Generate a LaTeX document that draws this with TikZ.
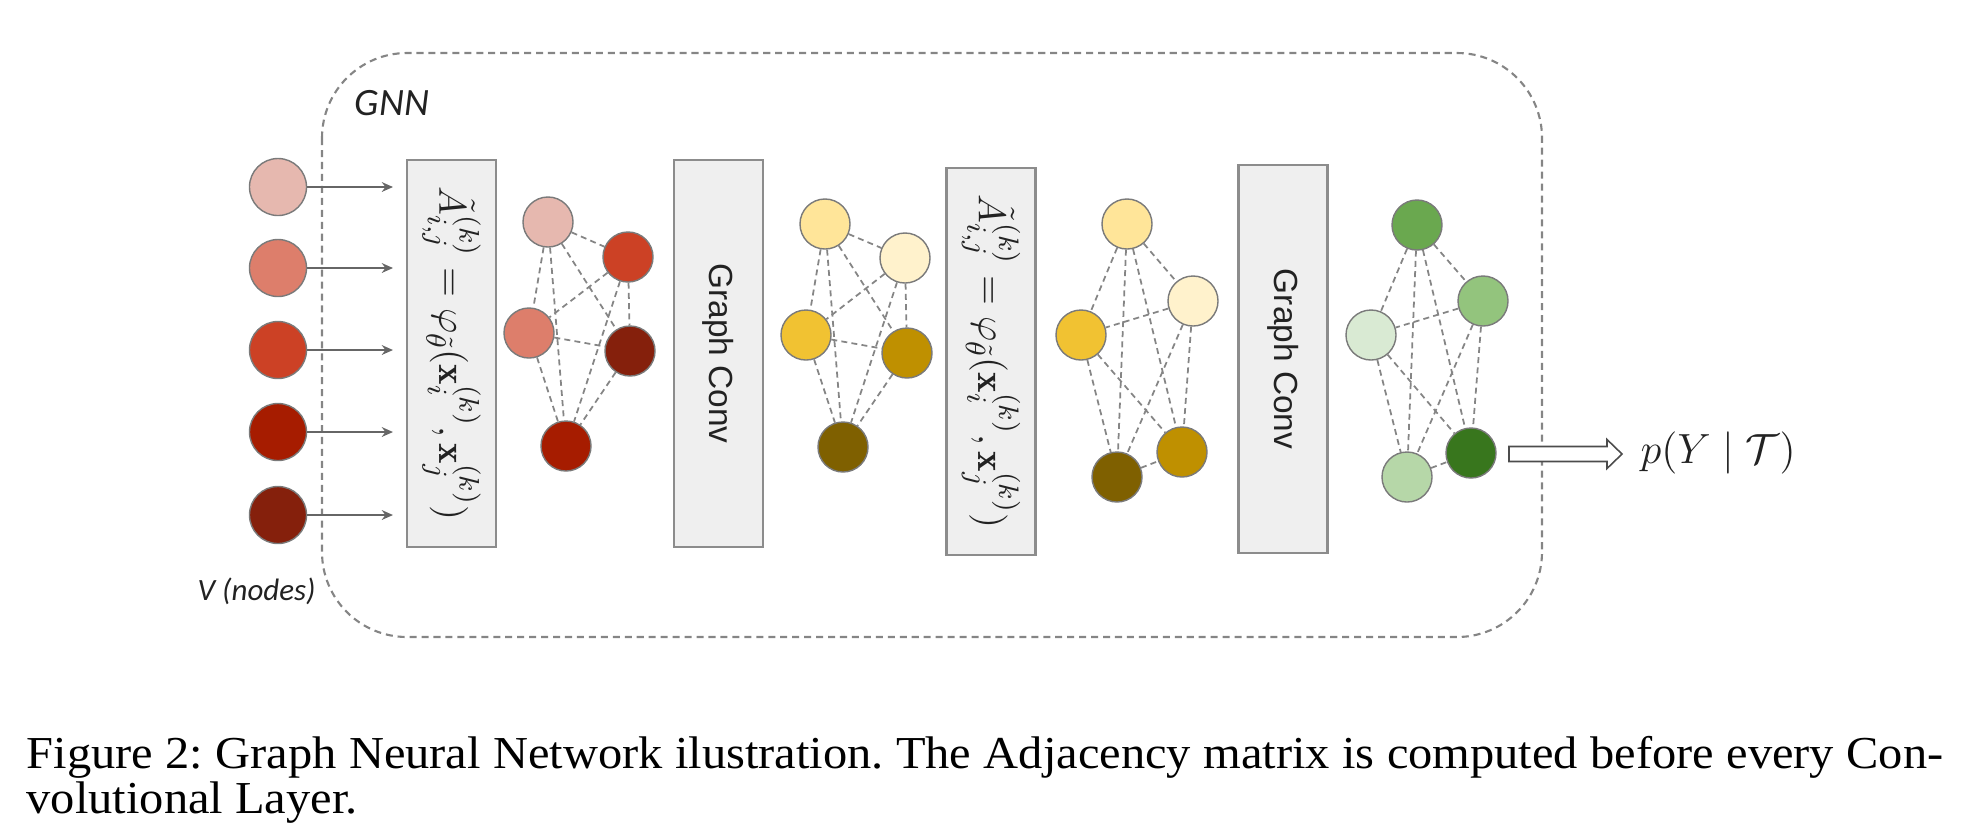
\documentclass[tikz,border=0pt]{standalone}
\usepackage{fontspec}
\usepackage{amsmath}
\usetikzlibrary{backgrounds,arrows.meta}
\newfontfamily\capfont[FakeStretch=1.06]{Liberation Serif}
\newfontfamily\calfont{Carlito}
\newfontfamily\arialfont{Liberation Sans}
\definecolor{rA}{HTML}{E6B8AF}
\definecolor{rB}{HTML}{DD7E6B}
\definecolor{rC}{HTML}{CC4125}
\definecolor{rD}{HTML}{A61C00}
\definecolor{rE}{HTML}{85200C}
\definecolor{yA}{HTML}{FFE599}
\definecolor{yB}{HTML}{FFF2CC}
\definecolor{yC}{HTML}{F1C232}
\definecolor{yD}{HTML}{BF9000}
\definecolor{yE}{HTML}{7F6000}
\definecolor{gA}{HTML}{6AA84F}
\definecolor{gB}{HTML}{93C47D}
\definecolor{gC}{HTML}{D9EAD3}
\definecolor{gD}{HTML}{B6D7A8}
\definecolor{gE}{HTML}{38761D}
\definecolor{nodeborder}{HTML}{7A7A7A}
\definecolor{edgegray}{HTML}{858585}
\definecolor{boxborder}{HTML}{8C8C8C}
\definecolor{boxfill}{HTML}{EFEFEF}
\definecolor{arrowgray}{HTML}{666666}
\definecolor{txt}{HTML}{222222}
\begin{document}
\begin{tikzpicture}[x=0.01cm,y=-0.01cm,
  gnode/.style={circle, draw=nodeborder, line width=0.4pt, minimum size=0.5cm, inner sep=0pt},
  innode/.style={gnode, minimum size=0.57cm},
  gedge/.style={draw=edgegray, dash pattern=on 1.7pt off 1.2pt, line width=0.5pt},
  opbox/.style={draw=boxborder, fill=boxfill, line width=0.6pt, rotate=-90,
    minimum width=3.87cm, minimum height=0.89cm, inner sep=0pt, text=txt},
  inarrow/.style={draw=arrowgray, line width=0.45pt, -{Stealth[length=3.2pt,width=2.8pt]}},
  gnnframe/.style={draw=edgegray, dash pattern=on 2pt off 1.4pt, line width=0.6pt, rounded corners=0.85cm},
  blockarrow/.style={draw=black!70, fill=white, line width=0.45pt, line join=miter},
  convtext/.style={font=\arialfont\fontsize{9.5}{11}\selectfont},
  formtext/.style={font=\fontsize{11}{13}\selectfont},
  labeltext/.style={text=txt, inner sep=0pt}
]
\useasboundingbox (0,0) rectangle (1982,838);

% GNN frame
\draw[gnnframe] (322,53) rectangle (1542,637);
\node[labeltext, anchor=base west, font=\calfont\itshape\fontsize{11}{13}\selectfont] (gnnlab) at (354,115) {GNN};
\node[labeltext, anchor=base west, font=\calfont\itshape\fontsize{8.8}{10}\selectfont] (vlab) at (197,600) {V (nodes)};

% input nodes
\node[innode, fill=rA] (in1) at (278,187) {};
\node[innode, fill=rB] (in2) at (278,268) {};
\node[innode, fill=rC] (in3) at (278,350) {};
\node[innode, fill=rD] (in4) at (278,432) {};
\node[innode, fill=rE] (in5) at (278,515) {};
\coordinate (t1) at (393,187);
\coordinate (t2) at (393,268);
\coordinate (t3) at (393,350);
\coordinate (t4) at (393,432);
\coordinate (t5) at (393,515);
\foreach \i in {1,...,5} \draw[inarrow] (in\i) -- (t\i);

% operation boxes
\node[opbox, formtext] (adj1) at (451.5,353.5)
  {$\tilde{A}^{(k)}_{i,j} = \varphi_{\tilde{\theta}}(\mathbf{x}^{(k)}_i, \mathbf{x}^{(k)}_j)$};
\node[opbox, convtext] (conv1) at (718.5,353.5) {Graph Conv};
\node[opbox, formtext] (adj2) at (991,361.5)
  {$\tilde{A}^{(k)}_{i,j} = \varphi_{\tilde{\theta}}(\mathbf{x}^{(k)}_i, \mathbf{x}^{(k)}_j)$};
\node[opbox, convtext] (conv2) at (1283,359) {Graph Conv};

% graph 1
\node[gnode, fill=rA] (g1a) at (548,222) {};
\node[gnode, fill=rC] (g1b) at (628,257) {};
\node[gnode, fill=rB] (g1c) at (529,333) {};
\node[gnode, fill=rE] (g1d) at (630,351) {};
\node[gnode, fill=rD] (g1e) at (566,446) {};
% graph 2
\node[gnode, fill=yA] (g2a) at (825,224) {};
\node[gnode, fill=yB] (g2b) at (905,258) {};
\node[gnode, fill=yC] (g2c) at (806,335) {};
\node[gnode, fill=yD] (g2d) at (907,353) {};
\node[gnode, fill=yE] (g2e) at (843,447) {};
% graph 3
\node[gnode, fill=yA] (g3a) at (1127,224) {};
\node[gnode, fill=yB] (g3b) at (1193,301) {};
\node[gnode, fill=yC] (g3c) at (1081,335) {};
\node[gnode, fill=yE] (g3d) at (1117,477) {};
\node[gnode, fill=yD] (g3e) at (1182,452) {};
% graph 4
\node[gnode, fill=gA] (g4a) at (1417,225) {};
\node[gnode, fill=gB] (g4b) at (1483,301) {};
\node[gnode, fill=gC] (g4c) at (1371,335) {};
\node[gnode, fill=gD] (g4d) at (1407,477) {};
\node[gnode, fill=gE] (g4e) at (1471,453) {};

\begin{scope}[on background layer]
\foreach \g in {1,2,3,4}
  \foreach \u/\v in {a/b,a/c,a/d,a/e,b/c,b/d,b/e,c/d,c/e,d/e}
    \draw[gedge] (g\g\u) -- (g\g\v);
\end{scope}

% output arrow
\coordinate (arrS) at (1509,454);
\coordinate (arrE) at (1622,454);
\draw[blockarrow] (arrS) ++(0,-7.5) -- ++(98,0) -- ++(0,-7) -- (arrE) -- ++(-15,14.5) -- ++(0,-7) -- ++(-98,0) -- cycle;
\node[labeltext, anchor=west, font=\fontsize{12}{14}\selectfont] (out) at (1640,453) {$p(Y \mid \mathcal{T})$};

% caption
\node[anchor=base west, inner sep=0pt] (cap) at (26,768) {\parbox[t]{545pt}{\capfont\fontsize{13}{13}\selectfont\frenchspacing
\makebox[\linewidth][s]{Figure 2: Graph Neural Network ilustration. The Adjacency matrix is computed before every Con-}\\
volutional Layer.}};
\end{tikzpicture}
\end{document}
